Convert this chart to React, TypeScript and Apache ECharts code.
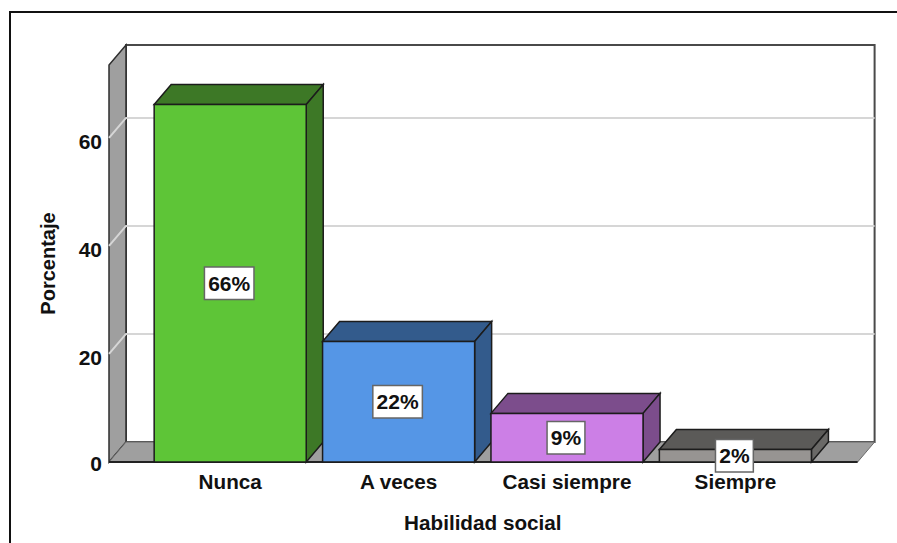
import React, { useEffect, useRef } from "react";
import * as echarts from "echarts";

const categories = ["Nunca", "A veces", "Casi siempre", "Siempre"];
const percentages = [66.2, 22.3, 9.0, 2.3];
const labels = ["66%", "22%", "9%", "2%"];
const yTicks = [20, 40, 60];
const yMax = 73.5;

const frontColors = ["#5EC537", "#5596E6", "#CC7FE6", "#979492"];
const topColors = ["#3D7826", "#335B8C", "#7C4D8C", "#5B5A58"];
const sideColors = ["#3D7826", "#335B8C", "#7C4D8C", "#6A6967"];

const DX = 17;
const DY = -20;
const FONT = "'Liberation Sans', Arial, sans-serif";
const EDGE = "#1c1c1c";

export default function App() {
  const ref = useRef<HTMLDivElement>(null);
  useEffect(() => {
    const chart = echarts.init(ref.current!, null, { renderer: "svg" });
    const poly = (points: number[][], fill: string, stroke = EDGE, lineWidth = 1.5) => ({
      type: "polygon",
      shape: { points },
      style: { fill, stroke, lineWidth },
    });
    chart.setOption({
      animation: false,
      backgroundColor: "#fff",
      grid: { left: 146, top: 65, width: 673.6, height: 397 },
      graphic: [
        {
          type: "polyline",
          shape: { points: [[10, 543], [10, 12], [897, 12]] },
          style: { fill: "none", stroke: "#111", lineWidth: 2 },
          silent: true,
        },
      ],
      xAxis: {
        type: "category",
        data: categories,
        axisLine: { show: false },
        axisTick: { show: false },
        axisLabel: { fontFamily: FONT, fontSize: 20.7, fontWeight: "bold", color: "#111", margin: 9 },
        name: "Habilidad social",
        nameLocation: "center",
        nameGap: 50,
        nameTextStyle: { fontFamily: FONT, fontSize: 20.7, fontWeight: "bold", color: "#111" },
      },
      yAxis: {
        type: "value",
        min: 0,
        max: yMax,
        interval: 20,
        offset: 37,
        axisLine: { show: false },
        axisTick: { show: false },
        splitLine: { show: false },
        axisLabel: {
          showMaxLabel: false,
          fontFamily: FONT,
          fontSize: 21,
          fontWeight: "bold",
          color: "#111",
          margin: 7,
          verticalAlign: "top",
          lineHeight: 8,
          formatter: (v: number) => (v === 0 ? "{zero|0}" : String(v)),
          rich: {
            zero: { fontFamily: FONT, fontSize: 21, fontWeight: "bold", color: "#111", lineHeight: 3 },
          },
        },
        name: "Porcentaje",
        nameLocation: "center",
        nameGap: 51,
        nameTextStyle: { fontFamily: FONT, fontSize: 20, fontWeight: "bold", color: "#111" },
      },
      series: [
        {
          type: "custom",
          clip: false,
          silent: true,
          z: 1,
          data: [[0, 0]],
          renderItem: (params: any, api: any) => {
            const cs = params.coordSys;
            const x0 = cs.x - 37;
            const x1 = cs.x + cs.width + 38;
            const yb = api.coord([0, 0])[1];
            const yt = api.coord([0, yMax])[1];
            const children: any[] = [
              poly([[x0 + DX, yt + DY], [x1 + DX, yt + DY], [x1 + DX, yb + DY], [x0 + DX, yb + DY]], "#fff", "#4a4a4a", 2),
              poly([[x0, yb], [x0, yt], [x0 + DX, yt + DY], [x0 + DX, yb + DY]], "#9F9F9F", "#2e2e2e", 1.5),
              {
                type: "polygon",
                shape: { points: [[x0, yb], [x0 + DX, yb + DY], [x1 + DX, yb + DY], [x1, yb]] },
                style: { fill: "#9F9F9F", stroke: "#6a6a6a", lineWidth: 1 },
              },
              {
                type: "line",
                shape: { x1: x0, y1: yb, x2: x1, y2: yb },
                style: { stroke: "#222", lineWidth: 2 },
              },
            ];
            yTicks.forEach((t) => {
              const y = api.coord([0, t])[1];
              children.push({
                type: "polyline",
                shape: { points: [[x0, y], [x0 + DX, y + DY], [x1 + DX, y + DY]] },
                style: { fill: "none", stroke: "#D6D6D6", lineWidth: 2 },
              });
            });
            return { type: "group", children };
          },
        },
        {
          type: "custom",
          clip: false,
          silent: true,
          z: 2,
          data: percentages.map((v, i) => [i, v]),
          renderItem: (params: any, api: any) => {
            const i = api.value(0);
            const [cx, yTop] = api.coord([i, api.value(1)]);
            const yb = api.coord([i, 0])[1];
            const w = api.size([1, 0])[0] * 0.903;
            const l = cx - w / 2;
            const r = cx + w / 2;
            return {
              type: "group",
              children: [
                poly([[l, yTop], [l + DX, yTop + DY], [r + DX, yTop + DY], [r, yTop]], topColors[i]),
                poly([[r, yTop], [r + DX, yTop + DY], [r + DX, yb + DY], [r, yb]], sideColors[i]),
                poly([[l, yb], [l, yTop], [r, yTop], [r, yb]], frontColors[i]),
              ],
            };
          },
        },
        {
          type: "custom",
          clip: false,
          silent: true,
          z: 3,
          data: percentages.map((v, i) => [i, v]),
          renderItem: (params: any, api: any) => {
            const i = api.value(0);
            const [cx, yTop] = api.coord([i, api.value(1)]);
            const yb = api.coord([i, 0])[1];
            return {
              type: "text",
              x: cx - 1,
              y: (yTop + yb) / 2,
              style: {
                text: labels[i],
                fontFamily: FONT,
                fontSize: 21,
                fontWeight: "bold",
                fill: "#111",
                align: "center",
                verticalAlign: "middle",
                backgroundColor: "#fff",
                borderColor: "#666",
                borderWidth: 1.5,
                padding: [5, 3, 5, 3],
              },
            };
          },
        },
      ],
    });
    return () => chart.dispose();
  }, []);
  return <div ref={ref} style={{ position: "fixed", left: 0, top: 0, width: 897, height: 543 }} />;
}
